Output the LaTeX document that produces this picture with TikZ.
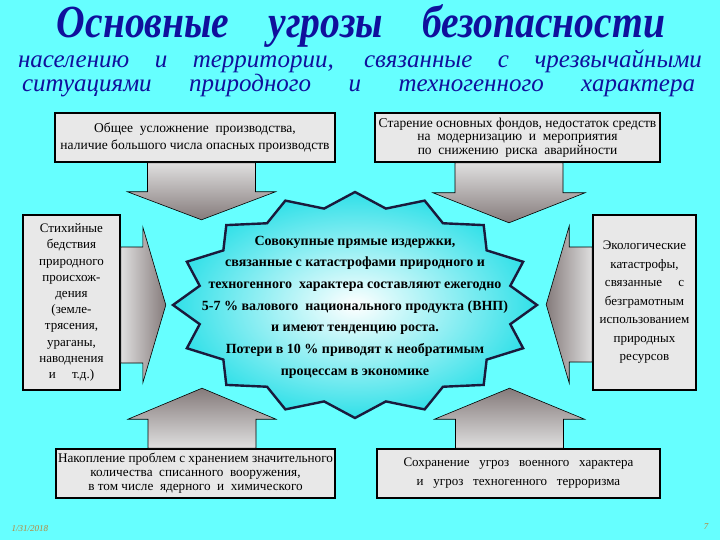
\documentclass[tikz,border=0pt]{standalone}
\usepackage{fontspec}
\setmainfont{Liberation Serif}
\usetikzlibrary{positioning}
\definecolor{slidecyan}{HTML}{66FFFF}
\definecolor{titleblue}{HTML}{10109C}
\definecolor{sealcyan}{HTML}{30E0E8}
\definecolor{sealline}{HTML}{1A1A3C}
\definecolor{boxgray}{HTML}{E8E8E8}
\definecolor{arrowgray}{HTML}{857B7B}
\definecolor{dategold}{HTML}{B8863B}

\begin{document}
\begin{tikzpicture}[
  x=1pt,y=-1pt,
  font=\fontsize{12.5}{15}\selectfont,
  threat/.style={draw,line width=1.6pt,fill=boxgray,align=center,inner sep=2pt},
  blockarrow/.style={draw,line width=0.6pt,line join=miter},
  seal/.style={draw=sealline,line width=2.4pt,line join=miter,shading=radial,inner color=white,outer color=sealcyan},
  heading/.style={anchor=base,text=titleblue,inner sep=0pt},
]
\fill[slidecyan] (0,0) rectangle (720,540);

\node[heading,font=\fontsize{46}{50}\selectfont\bfseries\itshape] (title) at (361,38)
  {\scalebox{0.86}[1]{\makebox[707pt][s]{Основные угрозы безопасности}}};
\node[heading,font=\fontsize{25}{30}\selectfont\itshape] (sub1) at (360,68)
  {\makebox[684pt][s]{населению и территории, связанные с чрезвычайными}};
\node[heading,font=\fontsize{25}{30}\selectfont\itshape] (sub2) at (358.5,92)
  {\makebox[673pt][s]{ситуациями природного и техногенного характера}};

\node[threat,minimum width=280pt,minimum height=49pt,font=\fontsize{13.5}{17}\selectfont] (common) at (195,137.5)
  {Общее \ усложнение \ производства,\\ наличие большого числа опасных производств};
\node[threat,minimum width=285pt,minimum height=49pt,font=\fontsize{13.5}{13.5}\selectfont] (aging) at (517.5,137.5)
  {Старение основных фондов, недостаток средств\\ на \ модернизацию \ и \ мероприятия\\ по \ снижению \ риска \ аварийности};
\node[threat,minimum width=97pt,minimum height=175pt,font=\fontsize{13}{16.2}\selectfont] (natural) at (71.5,302.5)
  {Стихийные\\ бедствия\\ природного\\ происхож-\\ дения\\ (земле-\\ трясения,\\ ураганы,\\ наводнения\\ и \quad т.д.)};
\node[threat,minimum width=103pt,minimum height=175pt,font=\fontsize{13}{18.5}\selectfont] (ecology) at (644.5,302.5)
  {Экологические\\ катастрофы,\\ связанные \quad с\\ безграмотным\\ использованием\\ природных\\ ресурсов};
\node[threat,minimum width=279pt,minimum height=49pt,font=\fontsize{13.2}{14}\selectfont] (arsenal) at (195.5,473.5)
  {Накопление проблем с хранением значительного\\ количества \ списанного \ вооружения,\\ в том числе \ ядерного \ и \ химического};
\node[threat,minimum width=283pt,minimum height=49pt,font=\fontsize{13}{19}\selectfont] (military) at (518.5,473.5)
  {Сохранение \ \ угроз \ \ военного \ \ характера\\ и \ \ угроз \ \ техногенного \ \ терроризма};

\path[blockarrow,top color=gray!25,middle color=white,bottom color=arrowgray]
  ([xshift=-47.5pt]common.south) -- ++(0,29) -- ++(-20,0) -- ++(74,28) -- ++(74,-28) -- ++(-20,0) -- ++(0,-29) -- cycle;
\path[blockarrow,top color=gray!25,middle color=white,bottom color=arrowgray]
  ([xshift=-62.5pt]aging.south) -- ++(0,30) -- ++(-22,0) -- ++(76,30) -- ++(76,-30) -- ++(-22,0) -- ++(0,-30) -- cycle;
\path[blockarrow,left color=gray!25,middle color=white,right color=arrowgray]
  ([yshift=55.5pt]natural.east) -- ++(22,0) -- ++(0,-20) -- ++(23,78) -- ++(-23,78) -- ++(0,-20) -- ++(-22,0) -- cycle;
\path[blockarrow,left color=arrowgray,middle color=white,right color=gray!25]
  ([yshift=55.5pt]ecology.west) -- ++(-23,0) -- ++(0,-21) -- ++(-23,78.5) -- ++(23,78.5) -- ++(0,-21) -- ++(23,0) -- cycle;
\path[blockarrow,top color=arrowgray,middle color=white,bottom color=gray!25]
  ([xshift=-47.5pt]arsenal.north) -- ++(0,-29) -- ++(-20,0) -- ++(74,-31) -- ++(74,31) -- ++(-20,0) -- ++(0,29) -- cycle;
\path[blockarrow,top color=arrowgray,middle color=white,bottom color=gray!25]
  ([xshift=-63pt]military.north) -- ++(0,-29) -- ++(-21,0) -- ++(75,-31) -- ++(75,31) -- ++(-21,0) -- ++(0,29) -- cycle;

\draw[seal] (355,192) \foreach \i [evaluate=\i as \k using {1-0.13*mod(\i,2)}] in {1,...,31}
  { -- ({355+182*\k*cos(90+11.25*\i)},{305-113*\k*sin(90+11.25*\i)}) } -- cycle;
\node[align=center,font=\fontsize{14}{21.7}\selectfont\bfseries] (losses) at (355,307)
  {Совокупные прямые издержки,\\ связанные с катастрофами природного и\\ техногенного \ характера составляют ежегодно\\
   5-7 \% валового \ национального продукта (ВНП)\\ и имеют тенденцию роста.\\ Потери в 10 \% приводят к необратимым\\ процессам в экономике};

\node[anchor=base west,text=dategold,font=\fontsize{9}{10}\selectfont\itshape] (date) at (8,531) {1/31/2018};
\node[anchor=base east,text=dategold,font=\fontsize{9}{10}\selectfont\itshape] (page) at (712,529) {7};
\end{tikzpicture}
\end{document}
